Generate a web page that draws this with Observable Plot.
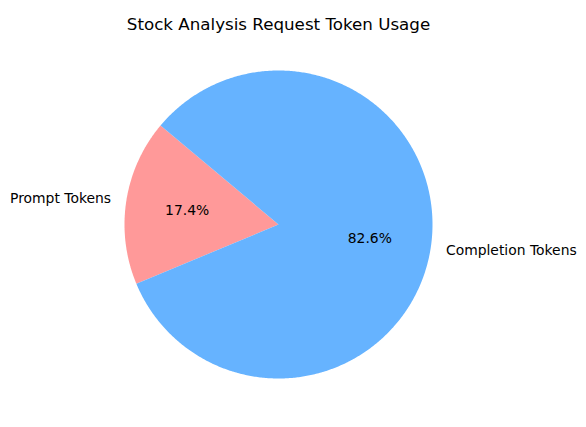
<!DOCTYPE html>
<html>
<head>
<meta charset="utf-8">
<script src="https://cdn.jsdelivr.net/npm/d3@7"></script>
<script src="https://cdn.jsdelivr.net/npm/@observablehq/plot@0.6"></script>
<style>
  body { margin: 0; background: #fff; }
  #chart svg { display: block; }
</style>
</head>
<body>
<div id="chart"></div>
<script>
const categories = ["Prompt Tokens", "Completion Tokens"];
const shares = [17.4, 82.6];
const colors = ["#ff9999", "#66b3ff"];
const titleText = "Stock Analysis Request Token Usage";

const startAngle = 140; // degrees, counterclockwise like matplotlib
const total = d3.sum(shares);

// Build slices
let acc = startAngle;
const slices = categories.map((c, i) => {
  const a0 = acc;
  const sweep = shares[i] / total * 360;
  acc += sweep;
  return {category: c, value: shares[i], color: colors[i], a0, a1: acc, mid: a0 + sweep / 2};
});

const polyPoints = [];
slices.forEach(s => {
  polyPoints.push({category: s.category, x: 0, y: 0});
  const n = Math.max(2, Math.ceil((s.a1 - s.a0) / 0.5));
  for (let k = 0; k <= n; k++) {
    const a = (s.a0 + (s.a1 - s.a0) * k / n) * Math.PI / 180;
    polyPoints.push({category: s.category, x: Math.cos(a), y: Math.sin(a)});
  }
  polyPoints.push({category: s.category, x: 0, y: 0});
});

const labels = slices.map(s => {
  const a = s.mid * Math.PI / 180;
  return {text: s.category, x: 1.1 * Math.cos(a), y: 1.1 * Math.sin(a), anchor: Math.cos(a) < 0 ? "end" : "start"};
});
const pcts = slices.map(s => {
  const a = s.mid * Math.PI / 180;
  return {text: s.value.toFixed(1) + "%", x: 0.6 * Math.cos(a), y: 0.6 * Math.sin(a)};
});

const W = 586, H = 427, R = 154, cx = 278, cy = 224;
const font = "DejaVu Sans";

const plot = Plot.plot({
  width: W,
  height: H,
  margin: 0,
  x: {domain: [-cx / R, (W - cx) / R], axis: null},
  y: {domain: [-(H - cy) / R, cy / R], axis: null},
  color: {domain: categories, range: colors},
  style: {fontFamily: font, background: "#fff"},
  marks: [
    ...slices.map(s => Plot.line(polyPoints.filter(p => p.category === s.category), {
      x: "x", y: "y", fill: s.color, stroke: "none", curve: "linear"
    })),
    Plot.text(labels.filter(d => d.anchor === "end"), {x: "x", y: "y", text: "text", textAnchor: "end", fontSize: 13.9, fill: "black"}),
    Plot.text(labels.filter(d => d.anchor === "start"), {x: "x", y: "y", text: "text", textAnchor: "start", fontSize: 13.9, fill: "black"}),
    Plot.text(pcts, {x: "x", y: "y", text: "text", fontSize: 13.9, fill: "black"}),
    Plot.text([titleText], {frameAnchor: "top", dx: cx - W / 2, dy: 18, fontSize: 16.7, fill: "black"})
  ]
});
document.getElementById("chart").append(plot);
</script>
</body>
</html>
